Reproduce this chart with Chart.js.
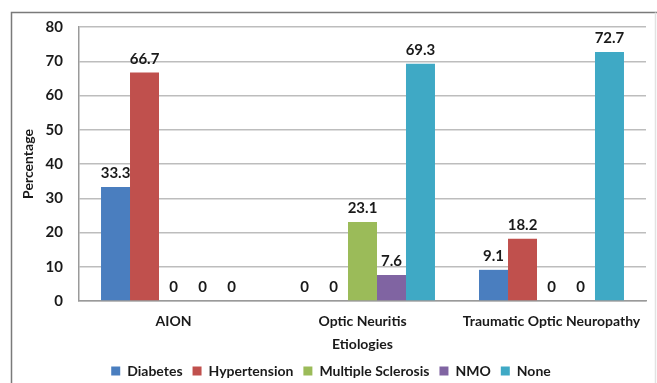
<!DOCTYPE html>
<html lang="en">
<head>
  <meta charset="UTF-8">
  <title>Etiologies Chart</title>
  <script src="https://cdn.jsdelivr.net/npm/chart.js"></script>
  <style>
    body { margin: 0; background: #fff; }
    #wrap { width: 657px; height: 383px; }
  </style>
</head>
<body>
  <div id="wrap"><canvas id="chart"></canvas></div>
  <script>
    // data
    const categories = ['AION', 'Optic Neuritis', 'Traumatic Optic Neuropathy'];
    const diabetes = [33.3, 0, 9.1];
    const hypertension = [66.7, 0, 18.2];
    const multipleSclerosis = [0, 23.1, 0];
    const nmo = [0, 7.6, 0];
    const none = [0, 69.3, 72.7];
    const yTicks = [0, 10, 20, 30, 40, 50, 60, 70, 80];

    const FONT = 'Lato, "Open Sans", sans-serif';
    const TXT = '#1a1a1a';

    // outer frame like the original figure box
    const framePlugin = {
      id: 'frame',
      beforeDraw(chart) {
        const c = chart.ctx;
        c.save();
        c.strokeStyle = '#7a7a7a';
        c.lineWidth = 1.5;
        c.beginPath();
        c.moveTo(11.5, 383);
        c.lineTo(11.5, 12.5);
        c.lineTo(657, 12.5);
        c.stroke();
        c.strokeStyle = '#e2e2e2';
        c.beginPath();
        c.moveTo(655.5, 12.5);
        c.lineTo(655.5, 383);
        c.stroke();
        c.restore();
      }
    };

    // value labels above each bar (zeros included)
    const valueLabels = {
      id: 'valueLabels',
      afterDatasetsDraw(chart) {
        const c = chart.ctx;
        c.save();
        c.font = 'bold 15px ' + FONT;
        c.fillStyle = TXT;
        c.textAlign = 'center';
        c.textBaseline = 'bottom';
        chart.data.datasets.forEach((ds, i) => {
          chart.getDatasetMeta(i).data.forEach((bar, j) => {
            c.fillText(String(ds.data[j]), bar.x, bar.y - 6);
          });
        });
        c.restore();
      }
    };

    new Chart(document.getElementById('chart'), {
      type: 'bar',
      data: {
        labels: categories,
        datasets: [
          { label: 'Diabetes', data: diabetes, backgroundColor: '#4a7ebf' },
          { label: 'Hypertension', data: hypertension, backgroundColor: '#c0504d' },
          { label: 'Multiple Sclerosis', data: multipleSclerosis, backgroundColor: '#9bbb59' },
          { label: 'NMO', data: nmo, backgroundColor: '#8064a2' },
          { label: 'None', data: none, backgroundColor: '#3fa9c5' }
        ]
      },
      options: {
        responsive: true,
        maintainAspectRatio: false,
        animation: false,
        layout: { padding: { top: 27, left: 16, right: 11, bottom: -5 } },
        datasets: { bar: { barPercentage: 1, categoryPercentage: 0.767 } },
        plugins: {
          tooltip: { enabled: false },
          legend: {
            position: 'bottom',
            labels: {
              color: TXT,
              font: { family: FONT, size: 14, weight: 'bold' },
              boxWidth: 9,
              boxHeight: 9,
              padding: 10
            }
          }
        },
        scales: {
          x: {
            afterFit(scale) { scale.height = 53; },
            grid: { display: false, drawTicks: false },
            border: { color: '#9a9a9a', width: 1.5 },
            ticks: { color: TXT, font: { family: FONT, size: 14, weight: 'bold' }, padding: 12, maxRotation: 0, autoSkip: false },
            title: { display: true, text: 'Etiologies', color: TXT, font: { family: FONT, size: 14, weight: 'bold' }, padding: { top: 0, bottom: 1 } }
          },
          y: {
            min: 0,
            max: 80,
            afterFit(scale) { scale.width = 63; },
            afterBuildTicks(scale) { scale.ticks = yTicks.map(v => ({ value: v })); },
            grid: { color: '#bdbdbd', lineWidth: 1.5, drawTicks: false },
            border: { color: '#9a9a9a', width: 1.5 },
            ticks: { color: TXT, font: { family: FONT, size: 15, weight: 'bold' }, padding: 16 },
            title: { display: true, text: 'Percentage', color: TXT, font: { family: FONT, size: 14, weight: 'bold' }, padding: { top: 4, bottom: 4 } }
          }
        }
      },
      plugins: [framePlugin, valueLabels]
    });
  </script>
</body>
</html>
